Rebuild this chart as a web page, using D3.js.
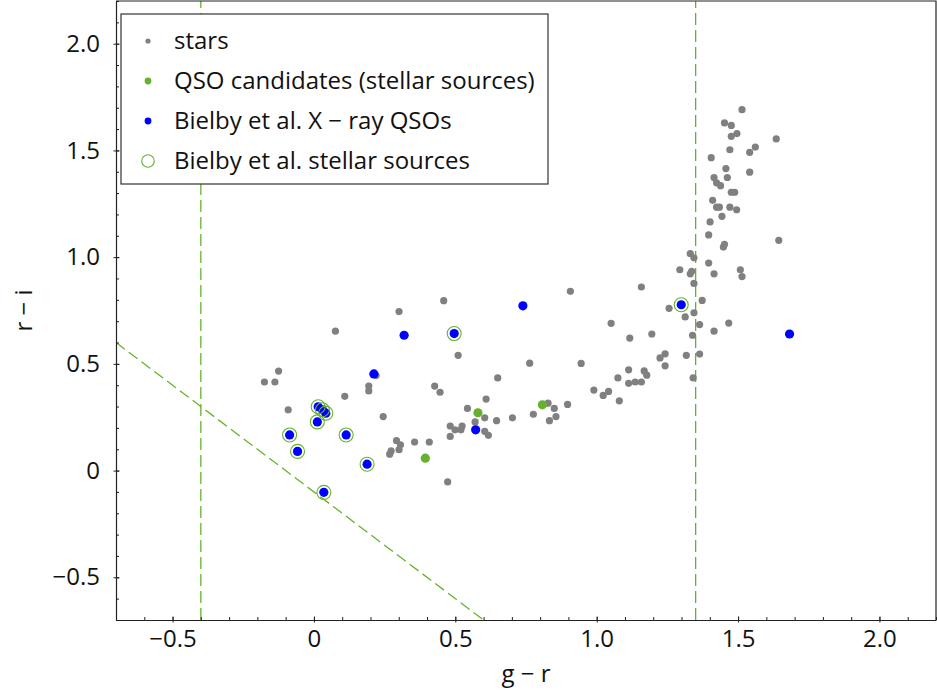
<!DOCTYPE html>
<html>
<head>
<meta charset="utf-8">
<script src="https://cdn.jsdelivr.net/npm/d3@7"></script>
<style>
  body { margin: 0; background: #fff; }
  text { font-family: "Open Sans", "DejaVu Sans", sans-serif; fill: #111; }
</style>
</head>
<body>
<svg id="chart" width="937" height="693"></svg>
<script>
// g-r / r-i colours of the field sources
const stars = [
  [0.907,0.840],[0.459,0.796],[0.301,0.745],[0.076,0.653],[0.510,0.540],[0.763,0.503],
  [0.945,0.502],[-0.125,0.466],[-0.175,0.415],[-0.138,0.415],[0.650,0.434],[0.220,0.445],
  [0.194,0.396],[0.194,0.373],[0.109,0.348],[0.427,0.396],[0.446,0.367],[0.609,0.335],
  [0.543,0.291],[-0.091,0.285],[0.828,0.316],[0.850,0.291],[0.897,0.310],[0.776,0.264],
  [0.702,0.247],[0.646,0.234],[0.604,0.247],[0.856,0.253],[0.833,0.234],[0.245,0.253],
  [0.570,0.228],[0.482,0.209],[0.524,0.209],[0.499,0.191],[0.520,0.191],[0.604,0.184],
  [0.617,0.165],[0.482,0.160],[0.292,0.140],[0.306,0.121],[0.356,0.134],[0.408,0.134],
  [0.301,0.098],[0.273,0.092],[0.268,0.077],[0.473,-0.053],
  [1.514,1.691],[1.452,1.629],[1.476,1.617],[1.496,1.579],[1.476,1.566],[1.635,1.554],
  [1.561,1.516],[1.541,1.491],[1.471,1.503],[1.405,1.466],[1.457,1.415],[1.541,1.398],
  [1.415,1.373],[1.462,1.373],[1.424,1.348],[1.438,1.335],[1.476,1.304],[1.488,1.304],
  [1.410,1.266],[1.424,1.234],[1.434,1.234],[1.471,1.234],[1.495,1.222],[1.443,1.191],
  [1.401,1.165],[1.396,1.104],[1.644,1.079],[1.452,1.060],[1.448,1.047],[1.331,1.016],
  [1.344,0.997],[1.396,0.972],[1.294,0.941],[1.336,0.934],[1.331,0.922],[1.415,0.922],
  [1.508,0.941],[1.514,0.909],[1.344,0.877],[1.373,0.797],[1.256,0.760],[1.313,0.720],
  [1.344,0.739],[1.364,0.684],[1.467,0.691],[1.415,0.653],[1.195,0.640],[1.339,0.634],
  [1.242,0.547],[1.224,0.528],[1.317,0.540],[1.364,0.546],[1.242,0.491],[1.341,0.434],
  [1.158,0.860],[1.051,0.690],[1.117,0.621],[1.113,0.472],[1.168,0.467],[1.177,0.447],
  [1.075,0.434],[1.113,0.409],[1.136,0.415],[1.158,0.415],[0.990,0.377],[1.023,0.352],
  [1.042,0.371],[1.080,0.327]
];
const qsoCandidates = [[0.580,0.271],[0.808,0.308],[0.394,0.058]];
const bielbyXray = [
  [0.739,0.772],[0.319,0.634],[0.496,0.642],[0.212,0.453],[0.015,0.299],[0.030,0.285],
  [0.042,0.269],[0.012,0.228],[-0.086,0.167],[0.114,0.167],[-0.058,0.090],[0.188,0.030],
  [0.035,-0.102],[0.572,0.191],[1.299,0.777],[1.682,0.640]
];
const bielbyStellar = [
  [0.496,0.642],[0.015,0.299],[0.030,0.285],[0.042,0.269],[0.012,0.228],[-0.086,0.167],
  [0.114,0.167],[-0.058,0.090],[0.188,0.030],[0.035,-0.102],[1.299,0.777]
];
// selection cuts
const cutGR = [-0.4, 1.35];
const diagCut = { slope: -1, intercept: -0.1 };

const xTicks = [-0.5, 0, 0.5, 1.0, 1.5, 2.0];
const yTicks = [-0.5, 0, 0.5, 1.0, 1.5, 2.0];

const green = "#66b22e", grey = "#808080", blue = "#0000ff";
const fontSize = 24;

const margin = {top: 1, right: 1, bottom: 73, left: 116};
const W = 937, H = 693;
const svg = d3.select("#chart");

const x = d3.scaleLinear().domain([-0.7, 2.2]).range([margin.left, W - margin.right]);
const y = d3.scaleLinear().domain([-0.7, 2.2]).range([H - margin.bottom, margin.top]);

svg.append("clipPath").attr("id", "clip").append("rect")
  .attr("x", x.range()[0]).attr("y", y.range()[1])
  .attr("width", x.range()[1] - x.range()[0]).attr("height", y.range()[0] - y.range()[1]);

const plot = svg.append("g").attr("clip-path", "url(#clip)");

// cut lines
plot.selectAll(".vcut").data(cutGR).enter().append("line")
  .attr("x1", d => x(d)).attr("x2", d => x(d))
  .attr("y1", y.range()[0]).attr("y2", y.range()[1])
  .attr("stroke", green).attr("stroke-width", 1.3).attr("stroke-dasharray", "12,5");
const dx = [-0.7, 2.2];
plot.append("line")
  .attr("x1", x(dx[0])).attr("y1", y(diagCut.slope * dx[0] + diagCut.intercept))
  .attr("x2", x(dx[1])).attr("y2", y(diagCut.slope * dx[1] + diagCut.intercept))
  .attr("stroke", green).attr("stroke-width", 1.3).attr("stroke-dasharray", "11,5");

// points
function dots(data, r, fill) {
  plot.append("g").selectAll("circle").data(data).enter().append("circle")
    .attr("cx", d => x(d[0])).attr("cy", d => y(d[1])).attr("r", r).attr("fill", fill);
}
dots(stars, 3.6, grey);
dots(qsoCandidates, 4.6, green);
dots(bielbyXray, 4.6, blue);
plot.append("g").selectAll("circle").data(bielbyStellar).enter().append("circle")
  .attr("cx", d => x(d[0])).attr("cy", d => y(d[1])).attr("r", 7)
  .attr("fill", "none").attr("stroke", green).attr("stroke-width", 1.1);

// axes
const fmt = d => d === 0 ? "0" : d3.format(".1f")(d);
const minor = d3.range(-0.7, 2.21, 0.1).map(v => Math.round(v * 10) / 10);

const gx = svg.append("g").attr("transform", `translate(0,${y.range()[0]})`);
gx.call(d3.axisBottom(x).tickValues(minor).tickSize(0).tickFormat(""));
gx.selectAll(".tick line").attr("y1", -3).attr("y2", 0).attr("stroke", "#222");
const gxM = svg.append("g").attr("transform", `translate(0,${y.range()[0]})`)
  .call(d3.axisBottom(x).tickValues(xTicks).tickSize(3).tickPadding(7).tickFormat(fmt));
gxM.selectAll(".tick line").attr("y1", -3.5).attr("y2", 2.5).attr("stroke", "#222");
gxM.select(".domain").remove();

const gy = svg.append("g").attr("transform", `translate(${x.range()[0]},0)`);
gy.call(d3.axisLeft(y).tickValues(minor).tickSize(0).tickFormat(""));
gy.selectAll(".tick line").attr("x1", 3).attr("x2", 0).attr("stroke", "#222");
const gyM = svg.append("g").attr("transform", `translate(${x.range()[0]},0)`)
  .call(d3.axisLeft(y).tickValues(yTicks).tickSize(3).tickPadding(13).tickFormat(fmt));
gyM.selectAll(".tick line").attr("x1", 3.5).attr("x2", -2.5).attr("stroke", "#222");
gyM.select(".domain").remove();

svg.selectAll(".domain").attr("stroke", "#222").attr("stroke-width", 1.2);
svg.selectAll(".tick text").attr("font-size", fontSize).attr("font-family", "'Open Sans', sans-serif").attr("fill", "#111");

// top / right frame
svg.append("path")
  .attr("d", `M${x.range()[0]},${y.range()[1]}H${x.range()[1]}V${y.range()[0]}`)
  .attr("fill", "none").attr("stroke", "#222").attr("stroke-width", 1.2);

// axis labels
svg.append("text").attr("x", (x.range()[0] + x.range()[1]) / 2).attr("y", 682)
  .attr("text-anchor", "middle").attr("font-size", fontSize).text("g \u2212 r");
svg.append("text").attr("transform", `translate(32,${(y.range()[0] + y.range()[1]) / 2}) rotate(-90)`)
  .attr("text-anchor", "middle").attr("font-size", fontSize).text("r \u2212 i");

// legend
const legend = svg.append("g");
legend.append("rect").attr("x", 121).attr("y", 14).attr("width", 427).attr("height", 170)
  .attr("fill", "#fff").attr("stroke", "#333").attr("stroke-width", 1.2);
const legendItems = [
  { label: "stars", kind: "dot", r: 2.6, color: grey },
  { label: "QSO candidates (stellar sources)", kind: "dot", r: 3.4, color: green },
  { label: "Bielby et al. X \u2212 ray QSOs", kind: "dot", r: 3.4, color: blue },
  { label: "Bielby et al. stellar sources", kind: "ring", r: 6.3, color: green }
];
const li = legend.selectAll(".li").data(legendItems).enter().append("g")
  .attr("transform", (d, i) => `translate(148,${41 + i * 40})`);
li.append("circle").attr("r", d => d.r)
  .attr("fill", d => d.kind === "dot" ? d.color : "none")
  .attr("stroke", d => d.kind === "ring" ? d.color : "none").attr("stroke-width", 1.1);
li.append("text").attr("x", 26).attr("dy", "0.35em").attr("font-size", fontSize).text(d => d.label);
</script>
</body>
</html>
